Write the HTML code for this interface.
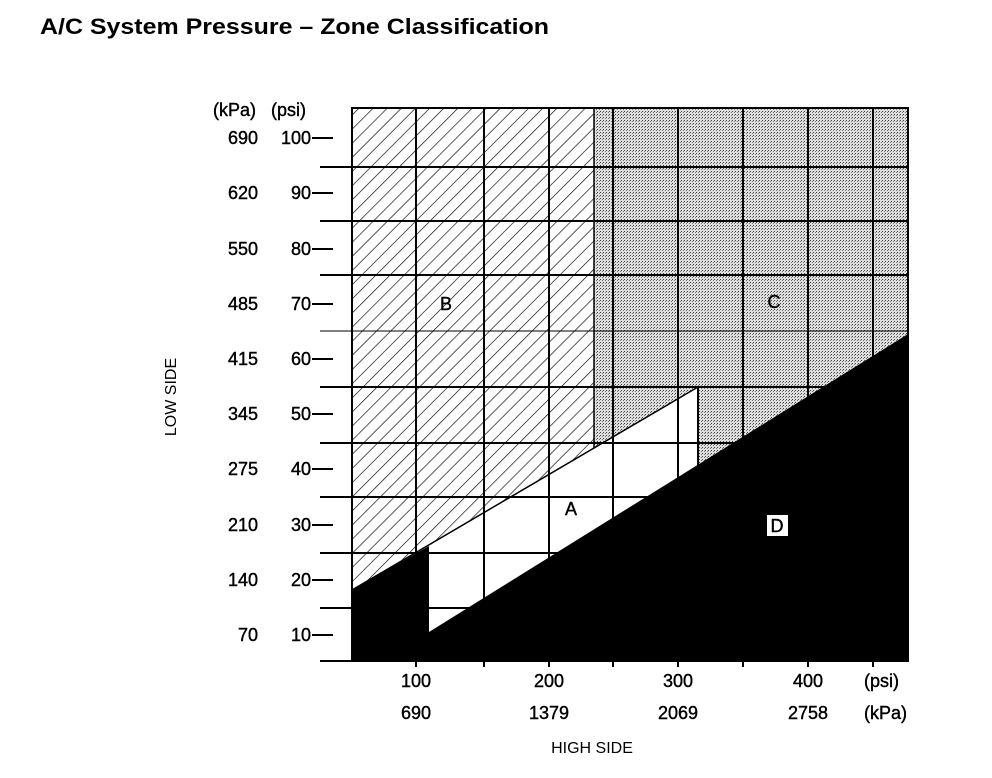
<!DOCTYPE html>
<html><head><meta charset="utf-8"><style>
html,body{margin:0;padding:0;background:#fff;}
svg{display:block;}
text{font-family:"Liberation Sans",Arial,sans-serif;fill:#000;}
</style></head><body>
<svg width="992" height="778" viewBox="0 0 992 778" xmlns="http://www.w3.org/2000/svg">
<defs>
<pattern id="hatch" width="10" height="10" patternUnits="userSpaceOnUse" patternTransform="rotate(45)">
<line x1="0" y1="0" x2="0" y2="10" stroke="#000" stroke-width="1.3"/>
</pattern>
<pattern id="dots" width="3" height="3" patternUnits="userSpaceOnUse">
<rect width="3" height="3" fill="#dedede"/>
<rect width="1" height="1" fill="#444"/>
<rect x="2" y="1" width="1" height="1" fill="#777"/>
</pattern>
<clipPath id="plot"><rect x="352" y="108" width="556" height="553"/></clipPath>
</defs>
<text x="40" y="34" font-size="22" font-weight="bold" textLength="509" lengthAdjust="spacingAndGlyphs">A/C System Pressure – Zone Classification</text>

<g clip-path="url(#plot)">
<polygon points="352,108 594,108 594,448 352,590" fill="url(#hatch)"/>
<polygon points="594,108 908,108 908,334 698,465 698,387 594,448" fill="url(#dots)"/>
<g stroke="#000" stroke-width="2">
<line x1="416" y1="108" x2="416" y2="661"/>
<line x1="484" y1="108" x2="484" y2="661"/>
<line x1="549" y1="108" x2="549" y2="661"/>
<line x1="613" y1="108" x2="613" y2="661"/>
<line x1="678" y1="108" x2="678" y2="661"/>
<line x1="698" y1="387" x2="698" y2="470"/>
<line x1="743" y1="108" x2="743" y2="661"/>
<line x1="808" y1="108" x2="808" y2="661"/>
<line x1="873" y1="108" x2="873" y2="661"/>
<line x1="594" y1="108" x2="594" y2="448" stroke-width="1.5"/>
<line x1="352" y1="590" x2="698" y2="387" stroke-width="1.5"/>
</g>
</g>
<g stroke="#000" stroke-width="2">
<line x1="320" y1="167" x2="908" y2="167"/>
<line x1="320" y1="221" x2="908" y2="221"/>
<line x1="320" y1="275" x2="908" y2="275"/>
<line x1="320" y1="331" x2="908" y2="331" stroke-width="1"/>
<line x1="320" y1="387" x2="908" y2="387"/>
<line x1="320" y1="443" x2="908" y2="443"/>
<line x1="320" y1="497" x2="908" y2="497"/>
<line x1="320" y1="553" x2="908" y2="553"/>
<line x1="320" y1="608" x2="908" y2="608"/>
<line x1="320" y1="661" x2="908" y2="661"/>
</g>
<g clip-path="url(#plot)"><polygon points="352,661 352,590 429,546 429,632 908,334 908,661" fill="#000"/></g>
<rect x="352" y="108" width="556" height="553" fill="none" stroke="#000" stroke-width="2"/>
<g stroke="#000" stroke-width="2">
<line x1="312" y1="138" x2="333" y2="138"/>
<line x1="312" y1="193" x2="333" y2="193"/>
<line x1="312" y1="249" x2="333" y2="249"/>
<line x1="312" y1="304" x2="333" y2="304"/>
<line x1="312" y1="359" x2="333" y2="359"/>
<line x1="312" y1="414" x2="333" y2="414"/>
<line x1="312" y1="469" x2="333" y2="469"/>
<line x1="312" y1="525" x2="333" y2="525"/>
<line x1="312" y1="580" x2="333" y2="580"/>
<line x1="312" y1="635" x2="333" y2="635"/>
</g>
<g stroke="#000" stroke-width="2">
<line x1="416" y1="661" x2="416" y2="667"/><line x1="484" y1="661" x2="484" y2="667"/>
<line x1="549" y1="661" x2="549" y2="667"/><line x1="613" y1="661" x2="613" y2="667"/>
<line x1="678" y1="661" x2="678" y2="667"/><line x1="743" y1="661" x2="743" y2="667"/>
<line x1="808" y1="661" x2="808" y2="667"/><line x1="873" y1="661" x2="873" y2="667"/>
</g>
<g font-size="18" stroke="#000" stroke-width="0.4">
<text x="213" y="116">(kPa)</text><text x="271" y="116">(psi)</text>
<g text-anchor="end">
<text x="258" y="144">690</text><text x="311" y="144">100</text>
<text x="258" y="199">620</text><text x="311" y="199">90</text>
<text x="258" y="255">550</text><text x="311" y="255">80</text>
<text x="258" y="310">485</text><text x="311" y="310">70</text>
<text x="258" y="365">415</text><text x="311" y="365">60</text>
<text x="258" y="420">345</text><text x="311" y="420">50</text>
<text x="258" y="475">275</text><text x="311" y="475">40</text>
<text x="258" y="531">210</text><text x="311" y="531">30</text>
<text x="258" y="586">140</text><text x="311" y="586">20</text>
<text x="258" y="641">70</text><text x="311" y="641">10</text>
</g>
<g text-anchor="middle">
<text x="416" y="687">100</text><text x="549" y="687">200</text><text x="678" y="687">300</text><text x="808" y="687">400</text>
<text x="416" y="719">690</text><text x="549" y="719">1379</text><text x="678" y="719">2069</text><text x="808" y="719">2758</text>
</g>
<text x="864" y="687">(psi)</text><text x="864" y="719">(kPa)</text>
<text x="446" y="310" text-anchor="middle">B</text>
<text x="774" y="308" text-anchor="middle">C</text>
<text x="571" y="515" text-anchor="middle">A</text>
</g>
<rect x="767" y="515" width="21" height="21" fill="#fff"/>
<text x="777" y="532" font-size="18" text-anchor="middle" stroke="#000" stroke-width="0.4">D</text>
<text x="592" y="753" font-size="16" text-anchor="middle">HIGH SIDE</text>
<text transform="translate(176,397) rotate(-90)" font-size="16" text-anchor="middle">LOW SIDE</text>
</svg>
</body></html>
